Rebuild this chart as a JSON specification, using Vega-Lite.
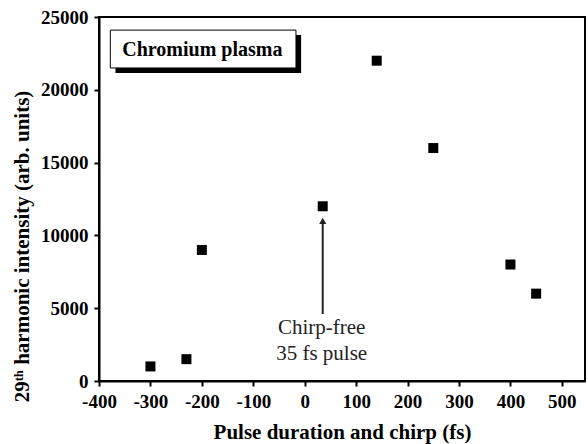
{
  "$schema": "https://vega.github.io/schema/vega-lite/v6.json",
  "width": 486,
  "height": 364,
  "autosize": "none",
  "padding": {"left": 99, "top": 17, "right": 3, "bottom": 63},
  "background": "white",
  "datasets": {
    "points": [
      {"x": -300, "y": 1000},
      {"x": -230, "y": 1500},
      {"x": -200, "y": 9000},
      {"x": 35, "y": 12000},
      {"x": 140, "y": 22000},
      {"x": 250, "y": 16000},
      {"x": 400, "y": 8000},
      {"x": 450, "y": 6000}
    ],
    "box": [{"x1": -378, "x2": -17, "y1": 21500, "y2": 24100, "label": "Chromium plasma", "lx": -199, "ly": 22750}],
    "shadow": [{"x1": -368, "x2": -7, "y1": 21160, "y2": 23760}],
    "arrow": [{"x": 35, "y1": 4600, "y2": 11000}],
    "note": [
      {"x": 33, "y": 3650, "text": "Chirp-free"},
      {"x": 33, "y": 1850, "text": "35 fs pulse"}
    ]
  },
  "config": {
    "view": {"stroke": "black", "strokeWidth": 2},
    "axis": {
      "labelFont": "Liberation Serif, serif",
      "labelFontWeight": "bold",
      "labelFontSize": 19,
      "labelColor": "black",
      "titleFont": "Liberation Serif, serif",
      "titleFontWeight": "bold",
      "titleFontSize": 21,
      "titleColor": "black",
      "domainColor": "black",
      "domainWidth": 2,
      "ticks": true,
      "tickSize": 5,
      "tickColor": "black",
      "tickWidth": 2,
      "grid": false
    }
  },
  "layer": [
    {
      "data": {"name": "shadow"},
      "mark": {"type": "rect", "fill": "black"},
      "encoding": {
        "x": {"field": "x1", "type": "quantitative", "scale": {"domain": [-400, 545], "nice": false, "zero": false},
          "axis": {"orient": "bottom", "title": "Pulse duration and chirp (fs)",
            "values": [-400,-350,-300,-250,-200,-150,-100,-50,0,50,100,150,200,250,300,350,400,450,500],
            "labelExpr": "datum.value % 100 === 0 ? '' + datum.value : ''",
            "labelPadding": 6, "titlePadding": 10, "labelFlush": false, "labelOverlap": false}},
        "x2": {"field": "x2"},
        "y": {"field": "y1", "type": "quantitative", "scale": {"domain": [0, 25000], "nice": false},
          "axis": {"orient": "left", "title": "29ᵗʰ harmonic intensity (arb. units)",
            "values": [0,2500,5000,7500,10000,12500,15000,17500,20000,22500,25000],
            "labelExpr": "datum.value % 5000 === 0 ? '' + datum.value : ''",
            "titleY": 229,
            "labelPadding": 6, "titlePadding": 8, "labelFlush": false, "labelOverlap": false}},
        "y2": {"field": "y2"}
      }
    },
    {
      "data": {"name": "box"},
      "mark": {"type": "rect", "fill": "white", "stroke": "black", "strokeWidth": 1},
      "encoding": {
        "x": {"field": "x1", "type": "quantitative"},
        "x2": {"field": "x2"},
        "y": {"field": "y1", "type": "quantitative"},
        "y2": {"field": "y2"}
      }
    },
    {
      "data": {"name": "box"},
      "mark": {"type": "text", "font": "Liberation Serif, serif", "fontWeight": "bold", "fontSize": 20, "color": "black", "align": "center", "baseline": "middle"},
      "encoding": {
        "x": {"field": "lx", "type": "quantitative"},
        "y": {"field": "ly", "type": "quantitative"},
        "text": {"field": "label"}
      }
    },
    {
      "data": {"name": "arrow"},
      "mark": {"type": "rule", "color": "#222", "strokeWidth": 2},
      "encoding": {
        "x": {"field": "x", "type": "quantitative"},
        "y": {"field": "y1", "type": "quantitative"},
        "y2": {"field": "y2"}
      }
    },
    {
      "data": {"name": "arrow"},
      "mark": {"type": "point", "shape": "triangle-up", "filled": true, "color": "#222", "opacity": 1, "size": 50},
      "encoding": {
        "x": {"field": "x", "type": "quantitative"},
        "y": {"field": "y2", "type": "quantitative"}
      }
    },
    {
      "data": {"name": "note"},
      "mark": {"type": "text", "font": "Liberation Serif, serif", "fontSize": 21, "color": "#222", "align": "center", "baseline": "middle"},
      "encoding": {
        "x": {"field": "x", "type": "quantitative"},
        "y": {"field": "y", "type": "quantitative"},
        "text": {"field": "text"}
      }
    },
    {
      "data": {"name": "points"},
      "mark": {"type": "square", "color": "black", "opacity": 1, "size": 100},
      "encoding": {
        "x": {"field": "x", "type": "quantitative"},
        "y": {"field": "y", "type": "quantitative"}
      }
    }
  ]
}
